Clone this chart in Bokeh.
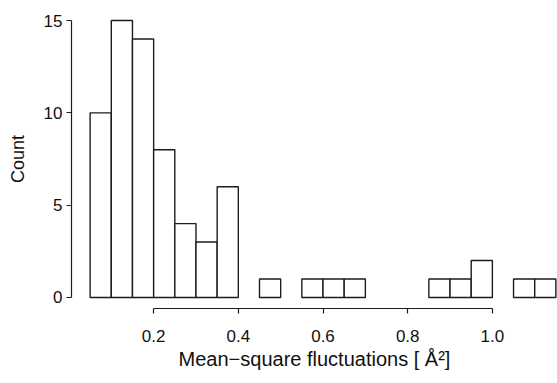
from bokeh.plotting import figure
from bokeh.models import Range1d, FixedTicker, PrintfTickFormatter, ColumnDataSource
from bokeh.embed import file_html
from bokeh.resources import INLINE

# Histogram data (bins of width 0.05)
bin_left = [0.05, 0.10, 0.15, 0.20, 0.25, 0.30, 0.35, 0.40, 0.45, 0.50, 0.55,
            0.60, 0.65, 0.70, 0.75, 0.80, 0.85, 0.90, 0.95, 1.00, 1.05, 1.10]
bin_right = [0.10, 0.15, 0.20, 0.25, 0.30, 0.35, 0.40, 0.45, 0.50, 0.55, 0.60,
             0.65, 0.70, 0.75, 0.80, 0.85, 0.90, 0.95, 1.00, 1.05, 1.10, 1.15]
counts = [10, 15, 14, 8, 4, 3, 6, 0, 1, 0, 1,
          1, 1, 0, 0, 0, 1, 1, 2, 0, 1, 1]

x_ticks = [0.2, 0.4, 0.6, 0.8, 1.0]
y_ticks = [0, 5, 10, 15]

keep = [i for i, c in enumerate(counts) if c > 0]
src = ColumnDataSource(dict(
    left=[bin_left[i] for i in keep],
    right=[bin_right[i] for i in keep],
    top=[counts[i] for i in keep],
    bottom=[0] * len(keep),
))

INK = "#1c1c1c"
FONT = "Liberation Sans"

p = figure(width=557, height=383, output_backend="svg", toolbar_location=None,
           x_range=Range1d(0.006, 1.1538), y_range=Range1d(-0.6, 15.6),
           min_border_left=71, min_border_right=0, min_border_top=9,
           min_border_bottom=75)
p.outline_line_color = None
p.grid.visible = False
p.background_fill_color = "white"

p.quad(left="left", right="right", top="top", bottom="bottom", source=src,
       fill_color="white", line_color=INK, line_width=1.4)

for ax in (p.xaxis[0], p.yaxis[0]):
    ax.axis_line_color = INK
    ax.axis_line_width = 1.2
    ax.major_tick_line_color = INK
    ax.major_tick_line_width = 1.2
    ax.major_tick_out = 5
    ax.major_tick_in = 0
    ax.minor_tick_line_color = None
    ax.major_label_text_font = FONT
    ax.major_label_text_font_size = "17px"
    ax.major_label_text_color = "#111111"
    ax.axis_label_text_font = FONT
    ax.axis_label_text_font_style = "normal"
    ax.axis_label_text_color = "#111111"

p.xaxis.ticker = FixedTicker(ticks=x_ticks)
p.xaxis.formatter = PrintfTickFormatter(format="%.1f")
p.xaxis.bounds = (x_ticks[0], x_ticks[-1])
p.xaxis.major_label_standoff = 16
p.xaxis.axis_label = "Mean\u2212square fluctuations [ \u00c5\u00b2]"
p.xaxis.axis_label_text_font_size = "20px"
p.xaxis.axis_label_standoff = 3

p.yaxis.ticker = FixedTicker(ticks=y_ticks)
p.yaxis.bounds = (y_ticks[0], y_ticks[-1])
p.yaxis.major_label_standoff = 4
p.yaxis.axis_label = "Count"
p.yaxis.axis_label_text_font_size = "18px"
p.yaxis.axis_label_standoff = 13

open("out.html", "w").write(file_html(p, INLINE))
